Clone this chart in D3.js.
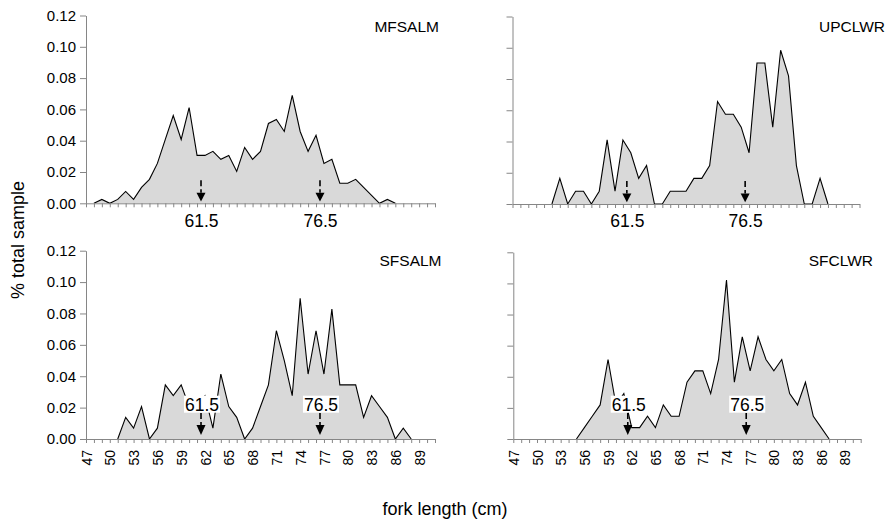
<!DOCTYPE html>
<html>
<head>
<meta charset="utf-8">
<script src="https://cdn.jsdelivr.net/npm/d3@7/dist/d3.min.js"></script>
<style>
  html, body { margin: 0; padding: 0; background: #fff; }
  svg { display: block; font-family: "Liberation Sans", Arial, sans-serif; }
</style>
</head>
<body>
<script>
// Fork-length categories (cm) on every panel's x axis
const lengths = [47,48,49,50,51,52,53,54,55,56,57,58,59,60,61,62,63,64,65,66,67,68,69,
                 70,71,72,73,74,75,76,77,78,79,80,81,82,83,84,85,86,87,88,89,90,91];
// Labelled x ticks on the lower panels
const tickLabels = [47,50,53,56,59,62,65,68,71,74,77,80,83,86,89];
// Y ticks (proportion of total sample)
const yTicks = [0,0.02,0.04,0.06,0.08,0.10,0.12];
// Length marks shown with arrows
const markLengths = [61.5, 76.5];

// Proportion of sample at each length, aligned with `lengths` (null = no fish)
const mfsalm = [null,0,0.0025,0,0.0025,0.0076,0.0025,0.0102,0.0153,0.0255,0.0408,0.0561,0.0408,
  0.0612,0.0306,0.0306,0.0332,0.0281,0.0306,0.0204,0.0357,0.0281,0.0332,0.0510,0.0536,0.0459,
  0.0689,0.0459,0.0332,0.0434,0.0255,0.0281,0.0128,0.0128,0.0153,0.0102,0.0051,0,0.0025,0,
  null,null,null,null,null];
const upclwr = [null,null,null,null,null,0,0.0164,0,0.0082,0.0082,0,0.0082,0.0410,0.0082,0.0410,
  0.0328,0.0164,0.0246,0,0,0.0082,0.0082,0.0082,0.0164,0.0164,0.0246,0.0656,0.0574,0.0574,
  0.0492,0.0328,0.0902,0.0902,0.0492,0.0984,0.0820,0.0246,0,0,0.0164,0,null,null,null,null];
const sfsalm = [null,null,null,null,0,0.0138,0.0069,0.0207,0,0.0069,0.0345,0.0276,0.0345,0.0207,
  0.0207,0.0276,0.0069,0.0414,0.0207,0.0138,0,0.0069,0.0207,0.0345,0.0690,0.0500,0.0276,0.0897,
  0.0414,0.0690,0.0414,0.0828,0.0345,0.0345,0.0345,0.0138,0.0276,0.0207,0.0138,0,0.0069,0,
  null,null,null];
const sfclwr = [null,null,null,null,null,null,null,null,0,0.0073,0.0146,0.0219,0.0511,0.0219,
  0.0292,0.0073,0.0073,0.0146,0.0073,0.0219,0.0146,0.0146,0.0365,0.0438,0.0438,0.0292,0.0511,
  0.1022,0.0365,0.0657,0.0438,0.0657,0.0511,0.0438,0.0511,0.0292,0.0219,0.0365,0.0146,0.0073,
  0,null,null,null,null];

const W = 889, H = 522;
const axisGrey = "#868686";

const panels = [
  { title: "MFSALM", data: mfsalm, x0: 86,    x1: 435,   top: 15.5,  base: 203.3, lower: false, yLabels: true,  titleX: 439,   titleY: 31.7 },
  { title: "UPCLWR", data: upclwr, x0: 512.5, x1: 859.5, top: 16.5,  base: 204,   lower: false, yLabels: false, titleX: 885,   titleY: 32.3 },
  { title: "SFSALM", data: sfsalm, x0: 86,    x1: 435,   top: 250.7, base: 439,   lower: true,  yLabels: true,  titleX: 441.5, titleY: 265.5 },
  { title: "SFCLWR", data: sfclwr, x0: 513.3, x1: 860.7, top: 252.3, base: 439,   lower: true,  yLabels: false, titleX: 873,   titleY: 265.5 }
];

const svg = d3.select("body").append("svg").attr("width", W).attr("height", H);

panels.forEach(p => {
  const x = d3.scaleLinear().domain([lengths[0], lengths[lengths.length - 1]]).range([p.x0, p.x1]);
  const y = d3.scaleLinear().domain([0, 0.12]).range([p.base, p.top]);
  const rows = lengths.map((len, i) => ({ len, v: p.data[i] }));
  const g = svg.append("g");

  // filled frequency polygon
  g.append("path")
    .datum(rows)
    .attr("fill", "#d9d9d9")
    .attr("d", d3.area().defined(d => d.v != null).x(d => x(d.len)).y0(y(0)).y1(d => y(d.v)));
  g.append("path")
    .datum(rows)
    .attr("fill", "none")
    .attr("stroke", "#000")
    .attr("stroke-width", 1.1)
    .attr("stroke-linejoin", "miter")
    .attr("d", d3.line().defined(d => d.v != null).x(d => x(d.len)).y(d => y(d.v)));

  // y axis
  const ya = g.append("g")
    .attr("transform", `translate(${p.x0},0)`)
    .call(d3.axisLeft(y).tickValues(yTicks).tickSize(6).tickSizeOuter(0)
      .tickFormat(p.yLabels ? d3.format(".2f") : () => ""));
  ya.select(".domain").attr("stroke", axisGrey);
  ya.selectAll(".tick line").attr("stroke", axisGrey);
  ya.selectAll(".tick text").attr("x", -10).attr("fill", "#000")
    .style("font-size", "15px").style("font-family", "Liberation Sans, Arial, sans-serif");

  // x axis with a tick at every length
  const xa = g.append("g")
    .attr("transform", `translate(0,${p.base})`)
    .call(d3.axisBottom(x).tickValues(lengths).tickSize(4).tickSizeOuter(0).tickFormat(() => ""));
  xa.select(".domain").attr("stroke", axisGrey);
  xa.selectAll(".tick line").attr("stroke", axisGrey);

  if (p.lower) {
    // rotated length labels
    const la = g.append("g")
      .attr("transform", `translate(0,${p.base})`)
      .call(d3.axisBottom(x).tickValues(tickLabels).tickSize(0).tickFormat(d3.format("d")));
    la.select(".domain").remove();
    la.selectAll(".tick text")
      .attr("fill", "#000")
      .style("font-size", "14px").style("font-family", "Liberation Sans, Arial, sans-serif")
      .attr("text-anchor", "end")
      .attr("transform", "rotate(-90)")
      .attr("x", -11).attr("y", 0).attr("dy", "0.36em");
  } else {
    // mark values written under the axis
    const ma = g.append("g")
      .attr("transform", `translate(0,${p.base})`)
      .call(d3.axisBottom(x).tickValues(markLengths).tickSize(0).tickFormat(d3.format(".1f")));
    ma.select(".domain").remove();
    ma.selectAll(".tick text")
      .attr("fill", "#000")
      .style("font-size", "17.5px").style("font-family", "Liberation Sans, Arial, sans-serif")
      .attr("y", 23.4).attr("dy", 0);
  }

  // arrows at the mark lengths
  const dashTop = p.lower ? 26 : 23, headTop = p.lower ? 14 : 10.5, tip = p.lower ? 4 : 1.8;
  markLengths.forEach(m => {
    const cx = x(m);
    if (p.lower) {
      const t = g.append("text")
        .attr("x", cx + 1).attr("y", p.base - 28.3)
        .attr("text-anchor", "middle")
        .style("font-size", "17.5px")
        .text(d3.format(".1f")(m));
      const bb = t.node().getBBox();
      g.insert("rect", () => t.node())
        .attr("x", bb.x - 1).attr("y", bb.y + 1)
        .attr("width", bb.width + 2).attr("height", bb.height - 3)
        .attr("fill", "#fff");
    }
    g.append("line")
      .attr("x1", cx).attr("x2", cx)
      .attr("y1", p.base - dashTop).attr("y2", p.base - headTop)
      .attr("stroke", "#000").attr("stroke-width", 1.6)
      .attr("stroke-dasharray", "6,3");
    g.append("path")
      .attr("d", `M${cx - 4.5},${p.base - headTop}L${cx + 4.5},${p.base - headTop}L${cx},${p.base - tip}Z`)
      .attr("fill", "#000");
  });

  // panel name
  g.append("text")
    .attr("x", p.titleX).attr("y", p.titleY)
    .attr("text-anchor", "end")
    .style("font-size", "15.5px")
    .text(p.title);
});

// axis titles
svg.append("text")
  .attr("transform", "translate(24,240) rotate(-90)")
  .attr("text-anchor", "middle")
  .style("font-size", "18px")
  .text("% total sample");

svg.append("text")
  .attr("x", 445).attr("y", 515)
  .attr("text-anchor", "middle")
  .style("font-size", "18px")
  .text("fork length (cm)");
</script>
</body>
</html>
